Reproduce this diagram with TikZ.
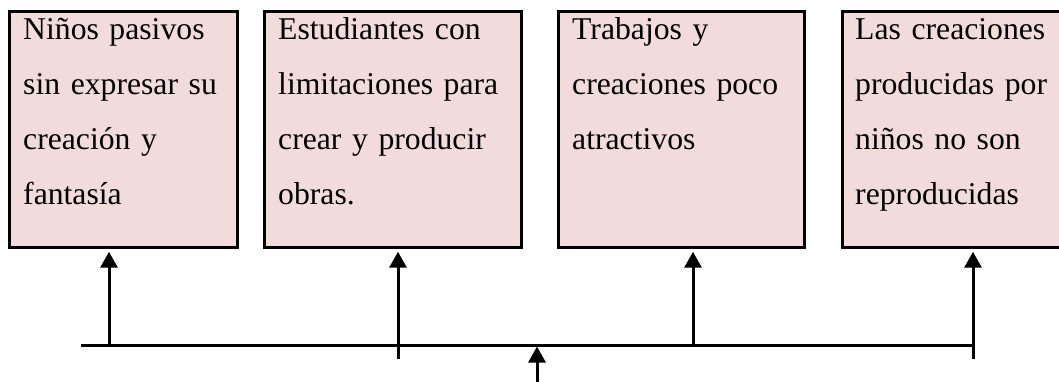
\documentclass[tikz,border=0pt]{standalone}
\usepackage{fontspec}
\setmainfont{Liberation Serif}
\usetikzlibrary{arrows.meta}
\definecolor{boxfill}{HTML}{F2DCDB}
\begin{document}
\begin{tikzpicture}[x=1pt,y=-1pt,
  box/.style={draw=black,fill=boxfill,line width=2.7pt,inner sep=0pt,anchor=north west,minimum height=236pt},
  txt/.style={anchor=base west,inner sep=0pt,align=left,text width=320pt,font=\fontsize{31.7}{55.3}\selectfont},
  conn/.style={line width=3pt},
  arr/.style={line width=3pt,-{Triangle[length=16pt,width=17pt]}}]
\useasboundingbox (0,0) rectangle (1059,381);
\node[box,minimum width=228pt] (b1) at (8,10) {};
\node[box,minimum width=257pt] (b2) at (263,10) {};
\node[box,minimum width=246pt] (b3) at (557,10) {};
\node[box,minimum width=221pt] (b4) at (841,10) {};
\node[txt] (t1) at (23,39) {Niños pasivos\\sin expresar su\\creación y\\fantasía};
\node[txt] (t2) at (278,39) {Estudiantes con\\limitaciones para\\crear y producir\\obras.};
\node[txt] (t3) at (572,39) {Trabajos y\\creaciones poco\\atractivos};
\node[txt] (t4) at (855,39) {Las creaciones\\producidas por\\niños no son\\reproducidas};
\coordinate (l0) at (81,345);
\coordinate (l1) at (109,345);
\coordinate (l2) at (398,359);
\coordinate (l3) at (693,345);
\coordinate (l4) at (973,359);
\coordinate (lend) at (973,345);
\coordinate (cin) at (537,390);
\coordinate (cmid) at (537,345);
\draw[conn] (l0) -- (lend);
\draw[arr,shorten >=3pt] (l1) -- (l1 |- b1.south);
\draw[arr,shorten >=3pt] (l2) -- (l2 |- b2.south);
\draw[arr,shorten >=3pt] (l3) -- (l3 |- b3.south);
\draw[arr,shorten >=3pt] (l4) -- (l4 |- b4.south);
\draw[arr,shorten >=1.5pt] (cin) -- (cmid);
\end{tikzpicture}
\end{document}
